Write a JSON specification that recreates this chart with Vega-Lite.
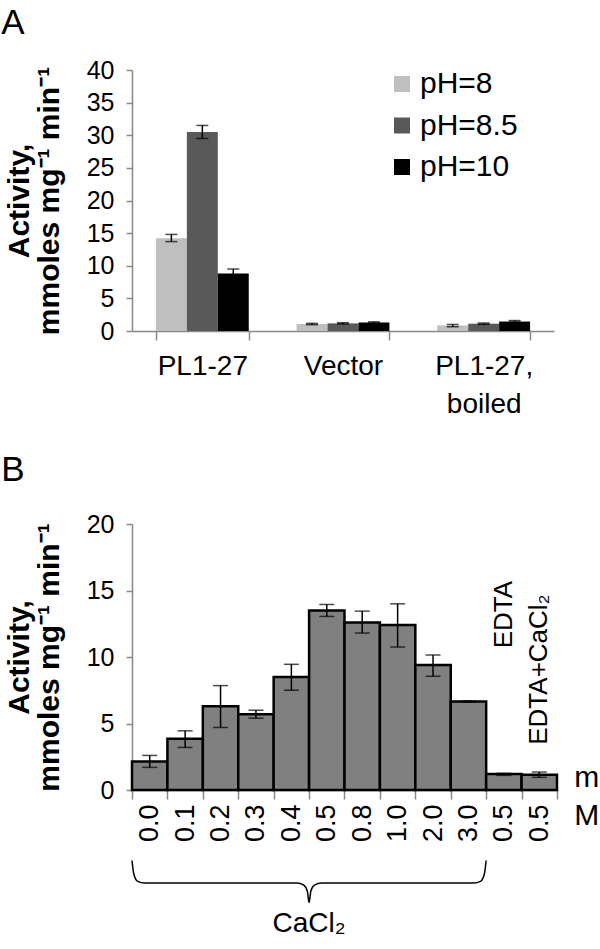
{
  "$schema": "https://vega.github.io/schema/vega-lite/v6.json",
  "padding": {"left": 1, "top": 6, "right": 0, "bottom": 0},
  "spacing": 35,
  "config": {
    "view": {"stroke": null},
    "font": "Liberation Sans",
    "axis": {"domainColor": "#888888", "tickColor": "#888888", "domainWidth": 1.5, "tickWidth": 1.5, "labelColor": "#000000", "titleColor": "#000000", "grid": false, "labelFont": "Liberation Sans", "titleFont": "Liberation Sans"},
    "axisY": {"titleFontSize": 30, "titleFontWeight": "bold", "titleLineHeight": 30, "titlePadding": 22, "labelFontSize": 25, "labelOverlap": false, "tickSize": 6, "labelPadding": 12},
    "title": {"font": "Liberation Sans", "fontSize": 35, "fontWeight": "normal", "anchor": "start", "frame": "bounds", "color": "#000000"},
    "legend": {"labelFont": "Liberation Sans", "labelColor": "#000000"}
  },
  "vconcat": [
    {
      "title": {"text": "A", "offset": 17, "dx": -3},
      "width": 422,
      "height": 261,
      "data": {"values": [
        {"sample": "PL1-27", "ph": "pH=8", "value": 14.2, "lo": 13.7, "hi": 14.8},
        {"sample": "PL1-27", "ph": "pH=8.5", "value": 30.5, "lo": 29.5, "hi": 31.5},
        {"sample": "PL1-27", "ph": "pH=10", "value": 8.8, "lo": 8.1, "hi": 9.5},
        {"sample": "Vector", "ph": "pH=8", "value": 1.07, "lo": 0.97, "hi": 1.17},
        {"sample": "Vector", "ph": "pH=8.5", "value": 1.17, "lo": 1.07, "hi": 1.27},
        {"sample": "Vector", "ph": "pH=10", "value": 1.3, "lo": 1.2, "hi": 1.4},
        {"sample": "PL1-27, boiled", "ph": "pH=8", "value": 0.85, "lo": 0.65, "hi": 1.0},
        {"sample": "PL1-27, boiled", "ph": "pH=8.5", "value": 1.12, "lo": 1.02, "hi": 1.22},
        {"sample": "PL1-27, boiled", "ph": "pH=10", "value": 1.45, "lo": 1.35, "hi": 1.6}
      ]},
      "encoding": {
        "x": {"field": "sample", "type": "nominal", "sort": null,
          "scale": {"paddingInner": 0.34, "paddingOuter": 0.17},
          "axis": {"title": null, "labelAngle": 0, "labelFontSize": 28, "labelBaseline": "top", "labelPadding": 12, "tickBand": "extent", "tickSize": 9, "labelLineHeight": 38,
            "labelExpr": "datum.label == 'PL1-27, boiled' ? ['PL1-27,', 'boiled'] : datum.label"}},
        "xOffset": {"field": "ph", "type": "nominal", "sort": null}
      },
      "layer": [
        {
          "mark": {"type": "bar"},
          "encoding": {
            "y": {"field": "value", "type": "quantitative", "scale": {"domain": [0, 40]},
              "axis": {"title": ["Activity,", "mmoles mg⁻¹ min⁻¹"], "values": [0, 5, 10, 15, 20, 25, 30, 35, 40]}},
            "color": {"field": "ph", "type": "nominal", "sort": null,
              "scale": {"domain": ["pH=8", "pH=8.5", "pH=10"], "range": ["#bfbfbf", "#595959", "#000000"]},
              "legend": {"title": null, "orient": "none", "legendX": 255, "legendY": -1, "symbolType": "square", "symbolSize": 256, "symbolStrokeWidth": 0, "labelFontSize": 30, "labelOffset": 3, "rowPadding": 11.5, "padding": 0}}
          }
        },
        {
          "mark": {"type": "rule", "color": "#000000", "strokeWidth": 1.5},
          "encoding": {"y": {"field": "lo", "type": "quantitative", "scale": {"domain": [0, 40]}, "axis": {"title": ["Activity,", "mmoles mg⁻¹ min⁻¹"], "values": [0, 5, 10, 15, 20, 25, 30, 35, 40]}}, "y2": {"field": "hi"}}
        },
        {
          "mark": {"type": "tick", "color": "#000000", "thickness": 1.5, "size": 12, "orient": "horizontal"},
          "encoding": {"y": {"field": "hi", "type": "quantitative", "scale": {"domain": [0, 40]}, "axis": {"title": ["Activity,", "mmoles mg⁻¹ min⁻¹"], "values": [0, 5, 10, 15, 20, 25, 30, 35, 40]}}}
        },
        {
          "mark": {"type": "tick", "color": "#000000", "thickness": 1.5, "size": 12, "orient": "horizontal"},
          "encoding": {"y": {"field": "lo", "type": "quantitative", "scale": {"domain": [0, 40]}, "axis": {"title": ["Activity,", "mmoles mg⁻¹ min⁻¹"], "values": [0, 5, 10, 15, 20, 25, 30, 35, 40]}}}
        }
      ]
    },
    {
      "title": {"text": "B", "offset": 24, "dx": -3},
      "width": 425,
      "height": 266,
      "resolve": {"scale": {"x": "independent"}},
      "layer": [
        {
          "data": {"values": [
            {"key": "0.0", "value": 2.15, "lo": 1.7, "hi": 2.6, "note": ""},
            {"key": "0.1", "value": 3.85, "lo": 3.2, "hi": 4.45, "note": ""},
            {"key": "0.2", "value": 6.3, "lo": 4.7, "hi": 7.85, "note": ""},
            {"key": "0.3", "value": 5.7, "lo": 5.4, "hi": 6.0, "note": ""},
            {"key": "0.4", "value": 8.5, "lo": 7.5, "hi": 9.45, "note": ""},
            {"key": "0.5", "value": 13.5, "lo": 13.05, "hi": 13.95, "note": ""},
            {"key": "0.8", "value": 12.6, "lo": 11.8, "hi": 13.45, "note": ""},
            {"key": "1.0", "value": 12.4, "lo": 10.75, "hi": 14.0, "note": ""},
            {"key": "2.0", "value": 9.4, "lo": 8.55, "hi": 10.15, "note": ""},
            {"key": "3.0", "value": 6.65, "lo": 6.6, "hi": 6.7, "note": ""},
            {"key": "EDTA|0.5", "value": 1.2, "lo": 1.1, "hi": 1.25, "note": "EDTA"},
            {"key": "EDTA+CaCl₂|0.5", "value": 1.15, "lo": 0.95, "hi": 1.35, "note": "EDTA+CaCl₂"}
          ]},
          "encoding": {
            "x": {"field": "key", "type": "nominal", "sort": null, "scale": {"padding": 0},
              "axis": {"title": null, "labelAngle": 270, "labelFontSize": 27, "labelPadding": 5, "tickBand": "extent", "tickSize": 9,
                "labelExpr": "indexof(datum.label, '|') >= 0 ? split(datum.label, '|')[1] : datum.label"}}
          },
          "layer": [
            {
              "mark": {"type": "bar", "color": "#808080", "stroke": "#000000", "strokeWidth": 2.5},
              "encoding": {
                "y": {"field": "value", "type": "quantitative", "scale": {"domain": [0, 20]},
                  "axis": {"title": ["Activity,", "mmoles mg⁻¹ min⁻¹"], "values": [0, 5, 10, 15, 20]}}
              }
            },
            {
              "mark": {"type": "rule", "color": "#000000", "strokeWidth": 1.5},
              "encoding": {"y": {"field": "lo", "type": "quantitative", "scale": {"domain": [0, 20]}, "axis": {"title": ["Activity,", "mmoles mg⁻¹ min⁻¹"], "values": [0, 5, 10, 15, 20]}}, "y2": {"field": "hi"}}
            },
            {
              "mark": {"type": "tick", "color": "#000000", "thickness": 1.5, "size": 15, "orient": "horizontal"},
              "encoding": {"y": {"field": "hi", "type": "quantitative", "scale": {"domain": [0, 20]}, "axis": {"title": ["Activity,", "mmoles mg⁻¹ min⁻¹"], "values": [0, 5, 10, 15, 20]}}}
            },
            {
              "mark": {"type": "tick", "color": "#000000", "thickness": 1.5, "size": 15, "orient": "horizontal"},
              "encoding": {"y": {"field": "lo", "type": "quantitative", "scale": {"domain": [0, 20]}, "axis": {"title": ["Activity,", "mmoles mg⁻¹ min⁻¹"], "values": [0, 5, 10, 15, 20]}}}
            },
            {
              "transform": [{"filter": "datum.note == 'EDTA'"}],
              "mark": {"type": "text", "angle": 270, "align": "left", "baseline": "middle", "fontSize": 26, "color": "#000000"},
              "encoding": {"text": {"field": "note"}, "y": {"datum": 10.65}}
            },
            {
              "transform": [{"filter": "datum.note == 'EDTA+CaCl₂'"}],
              "mark": {"type": "text", "angle": 270, "align": "left", "baseline": "middle", "fontSize": 26, "color": "#000000"},
              "encoding": {"text": {"field": "note"}, "y": {"datum": 3.4}}
            },
            {
              "transform": [{"filter": "datum.note == 'EDTA+CaCl₂'"}],
              "mark": {"type": "text", "text": "m", "align": "left", "baseline": "alphabetic", "fontSize": 30, "dx": 35, "color": "#000000"},
              "encoding": {"y": {"datum": 0.2}}
            },
            {
              "transform": [{"filter": "datum.note == 'EDTA+CaCl₂'"}],
              "mark": {"type": "text", "text": "M", "align": "left", "baseline": "alphabetic", "fontSize": 30, "dx": 35, "color": "#000000"},
              "encoding": {"y": {"datum": -2.65}}
            }
          ]
        },
        {
          "data": {"values": [
            {"pos": 0, "level": -5.3},
            {"pos": 0.05, "level": -6.3},
            {"pos": 0.15, "level": -6.85},
            {"pos": 0.35, "level": -7.0},
            {"pos": 4.65, "level": -7.0},
            {"pos": 4.85, "level": -7.15},
            {"pos": 4.95, "level": -7.6},
            {"pos": 5, "level": -8.45},
            {"pos": 5.05, "level": -7.6},
            {"pos": 5.15, "level": -7.15},
            {"pos": 5.35, "level": -7.0},
            {"pos": 9.65, "level": -7.0},
            {"pos": 9.85, "level": -6.85},
            {"pos": 9.95, "level": -6.3},
            {"pos": 10, "level": -5.3}
          ]},
          "encoding": {"x": {"field": "pos", "type": "quantitative", "scale": {"domain": [0, 12]}, "axis": null}},
          "layer": [
            {
              "mark": {"type": "line", "color": "#000000", "strokeWidth": 1.5, "interpolate": "monotone"},
              "encoding": {"y": {"field": "level", "type": "quantitative", "scale": {"domain": [0, 20]}, "axis": {"title": ["Activity,", "mmoles mg⁻¹ min⁻¹"], "values": [0, 5, 10, 15, 20]}}}
            },
            {
              "transform": [{"filter": "datum.pos == 5"}],
              "mark": {"type": "text", "text": "CaCl₂", "fontSize": 28, "align": "center", "baseline": "alphabetic", "color": "#000000"},
              "encoding": {"y": {"datum": -10.7}}
            }
          ]
        }
      ]
    }
  ]
}
